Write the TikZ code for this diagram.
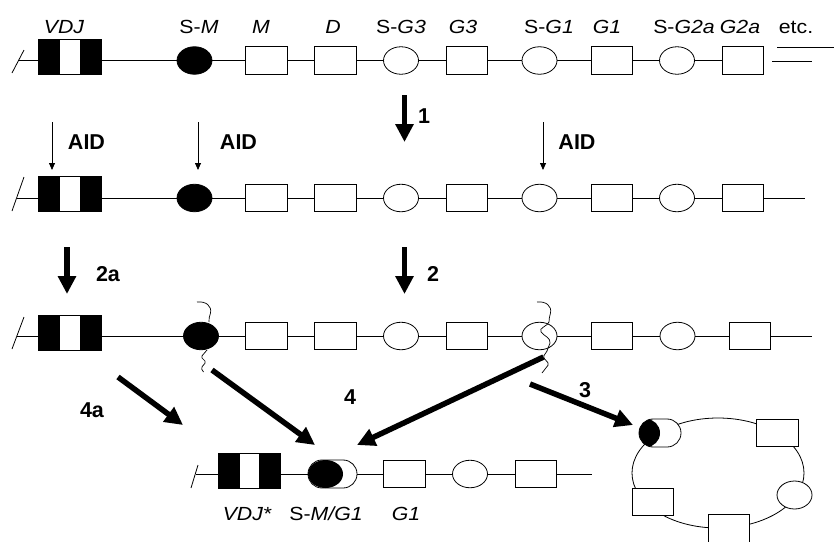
\documentclass[tikz,border=0pt]{standalone}
\usepackage{fontspec}
\setmainfont{Liberation Sans}
\newfontfamily\labfont[FakeStretch=1.12]{Liberation Sans}
\usetikzlibrary{arrows.meta,shapes.geometric}
\begin{document}
\begin{tikzpicture}[x=1pt,y=-1pt,
  elline/.style={line width=0.8pt},
  gbox/.style={draw, line width=0.8pt, fill=white, minimum width=41.5pt, minimum height=27.5pt, inner sep=0pt},
  swo/.style={ellipse, draw, line width=0.8pt, fill=white, minimum width=35pt, minimum height=27.5pt, inner sep=0pt},
  swf/.style={swo, fill=black},
  vdjbox/.style={draw, line width=0.8pt, fill=black, minimum width=63pt, minimum height=35pt, inner sep=0pt,
    path picture={\fill[white] ([xshift=21.5pt]path picture bounding box.south west) rectangle ([xshift=-21.5pt]path picture bounding box.north east);}},
  halfsw/.style={draw, line width=0.8pt, fill=white, rounded corners=13.9pt, minimum width=42pt, minimum height=28pt, inner sep=0pt,
    path picture={\fill[black] (path picture bounding box.south west) rectangle (path picture bounding box.north);}},
  fusesw/.style={draw, line width=0.8pt, fill=white, rounded corners=13.9pt, minimum width=49pt, minimum height=28pt, inner sep=0pt,
    path picture={\fill[black] ([xshift=17.5pt]path picture bounding box.west) ellipse (17.5pt and 14pt);}},
  lab/.style={font=\labfont\fontsize{19}{22}\selectfont\itshape, anchor=base, inner sep=0pt},
  bl/.style={font=\fontsize{21.5}{25}\selectfont\bfseries, anchor=base, inner sep=0pt},
  aidarr/.style={line width=0.8pt, -{Triangle[length=7pt,width=6pt]}},
  bigarr/.style={line width=5.5pt, -{Triangle[length=18pt,width=17.5pt]}},
  squig/.style={line width=0.7pt},
]
\useasboundingbox (0,0) rectangle (834,541);

% ---------------- Row 1 ----------------
\coordinate (s1a) at (12,73); \coordinate (s1b) at (24,50);
\coordinate (r1s) at (18.5,60.5); \coordinate (r1e) at (764,60.5);
\draw[elline] (s1a) -- (s1b);
\draw[elline] (r1s) -- (r1e);
\node[vdjbox] (vdj1) at (69.5,56.5) {};
\node[swf] (sm1) at (194.5,60.5) {};
\node[gbox] (m1) at (266.5,60.5) {};
\node[gbox] (d1) at (335.5,60.5) {};
\node[swo] (sg31) at (401,60.5) {};
\node[gbox] (g31) at (467,60.5) {};
\node[swo] (sg11) at (539.5,60.5) {};
\node[gbox] (g11) at (612,60.5) {};
\node[swo] (sg2a1) at (677,60.5) {};
\node[gbox] (g2a1) at (743,60.5) {};
\coordinate (e1a) at (777,47); \coordinate (e1b) at (834,47);
\coordinate (e2a) at (772,61); \coordinate (e2b) at (812,61);
\draw[elline] (e1a) -- (e1b);
\draw[elline] (e2a) -- (e2b);

\node[lab] (t1) at (64,33.5) {VDJ};
\node[lab] (t2) at (199,33.5) {\upshape S-\itshape M};
\node[lab] (t3) at (261,33.5) {M};
\node[lab] (t4) at (333,33.5) {D};
\node[lab] (t5) at (401,33.5) {\upshape S-\itshape G3};
\node[lab] (t6) at (463,33.5) {G3};
\node[lab] (t7) at (549,33.5) {\upshape S-\itshape G1};
\node[lab] (t8) at (607,33.5) {G1};
\node[lab] (t9) at (684,33.5) {\upshape S-\itshape G2a};
\node[lab] (t10) at (740,33.5) {G2a};
\node[lab] (t11) at (796,33.5) {\upshape etc.};

% arrow 1
\coordinate (a1s) at (404.5,95); \coordinate (a1e) at (404.5,142);
\draw[bigarr] (a1s) -- (a1e);
\node[bl] (n1) at (424,123) {1};

% ---------------- AID ----------------
\coordinate (aid1s) at (52,122); \coordinate (aid1e) at (52,170);
\coordinate (aid2s) at (198,122); \coordinate (aid2e) at (198,170);
\coordinate (aid3s) at (543,122); \coordinate (aid3e) at (543,170);
\draw[aidarr] (aid1s) -- (aid1e);
\draw[aidarr] (aid2s) -- (aid2e);
\draw[aidarr] (aid3s) -- (aid3e);
\node[bl] (aidl1) at (86.5,149.3) {AID};
\node[bl] (aidl2) at (238.5,149.3) {AID};
\node[bl] (aidl3) at (577,149.3) {AID};

% ---------------- Row 2 ----------------
\coordinate (s2a) at (12,211); \coordinate (s2b) at (24,177);
\coordinate (r2s) at (16.6,198); \coordinate (r2e) at (805,198);
\draw[elline] (s2a) -- (s2b);
\draw[elline] (r2s) -- (r2e);
\node[vdjbox] (vdj2) at (69.5,194.25) {};
\node[swf] (sm2) at (194.5,198) {};
\node[gbox] (m2) at (266.5,198) {};
\node[gbox] (d2) at (335.5,198) {};
\node[swo] (sg32) at (401,198) {};
\node[gbox] (g32) at (467,198) {};
\node[swo] (sg12) at (539.5,198) {};
\node[gbox] (g12) at (612,198) {};
\node[swo] (sg2a2) at (677,198) {};
\node[gbox] (g2a2) at (743,198) {};

% arrows 2a, 2
\coordinate (a2as) at (67,247); \coordinate (a2ae) at (67,294);
\coordinate (a2s) at (404.5,247); \coordinate (a2e) at (404.5,294);
\draw[bigarr] (a2as) -- (a2ae);
\draw[bigarr] (a2s) -- (a2e);
\node[bl] (n2a) at (108,281) {2a};
\node[bl] (n2) at (433,281) {2};

% ---------------- Row 3 ----------------
\coordinate (s3a) at (12,349); \coordinate (s3b) at (24,317);
\coordinate (r3s) at (16.9,336); \coordinate (r3e) at (812,336);
\draw[elline] (s3a) -- (s3b);
\draw[elline] (r3s) -- (r3e);
\node[vdjbox] (vdj3) at (69.5,332.5) {};
\node[swf] (sm3) at (201,336) {};
\node[gbox] (m3) at (266.5,336) {};
\node[gbox] (d3) at (335.5,336) {};
\node[swo] (sg33) at (401,336) {};
\node[gbox] (g33) at (467,336) {};
\node[swo] (sg13) at (539.5,336) {};
\node[gbox] (g13) at (612,336) {};
\node[swo] (sg2a3) at (677.5,336) {};
\node[gbox] (g2a3) at (750,336) {};

% breaks (squiggles)
\draw[squig] (197,302) .. controls (206,301) and (212,306) .. (210.5,313) .. controls (209.5,317) and (208.5,319) .. (209,322);
\draw[squig, rounded corners=1.5pt] (207,350) -- (201,357) -- (206,362) -- (201,368) -- (203.5,372);
\draw[squig] (537,302) .. controls (546,301) and (552,306) .. (550.5,313) .. controls (549.5,317) and (549,319) .. (549,322)
  .. controls (548,326) and (538,328) .. (541,332) .. controls (544,336) and (551,338) .. (550,343) .. controls (549,346) and (548,348) .. (547,351);
\draw[squig, rounded corners=1.5pt] (547,351) -- (543,357) -- (549,364) -- (542,373);

% ---------------- Row 4 ----------------
\coordinate (s4a) at (191,488); \coordinate (s4b) at (198,465);
\coordinate (r4s) at (196,474); \coordinate (r4e) at (592,474);
\draw[elline] (s4a) -- (s4b);
\draw[elline] (r4s) -- (r4e);
\node[vdjbox, minimum width=62pt] (vdj4) at (249,470.5) {};
\node[fusesw] (smg4) at (332.5,474) {};
\node[gbox] (g14) at (404.5,474) {};
\node[swo] (sw4) at (470,474) {};
\node[gbox] (b4) at (536,474) {};
\node[lab] (l41) at (247,520) {VDJ*};
\node[lab] (l42) at (326,520) {\upshape S-\itshape M/G1};
\node[lab] (l43) at (406,520) {G1};

% ---------------- Circle ----------------
\coordinate (loopc) at (718,473);
\draw[elline] (loopc) ellipse (86pt and 55pt);
\node[halfsw] (plas) at (660,433) {};
\node[gbox] (pb1) at (777.5,433) {};
\node[swo, minimum height=28pt] (pe1) at (794.5,495) {};
\node[gbox] (pb2) at (653,502) {};
\node[gbox] (pb3) at (729,528.5) {};

% ---------------- thick diagonal arrows ----------------
\coordinate (a4as) at (118,377); \coordinate (a4ae) at (183,425);
\coordinate (a4ls) at (212,370); \coordinate (a4le) at (315,445);
\coordinate (a4rs) at (543.5,357); \coordinate (a4re) at (357,445);
\coordinate (a3s) at (530,384); \coordinate (a3e) at (633,425);
\draw[bigarr] (a4as) -- (a4ae);
\draw[bigarr] (a4ls) -- (a4le);
\draw[bigarr] (a4rs) -- (a4re);
\draw[bigarr] (a3s) -- (a3e);
\node[bl] (n4a) at (92,417) {4a};
\node[bl] (n4) at (350,404) {4};
\node[bl] (n3) at (585,397) {3};
\end{tikzpicture}
\end{document}
